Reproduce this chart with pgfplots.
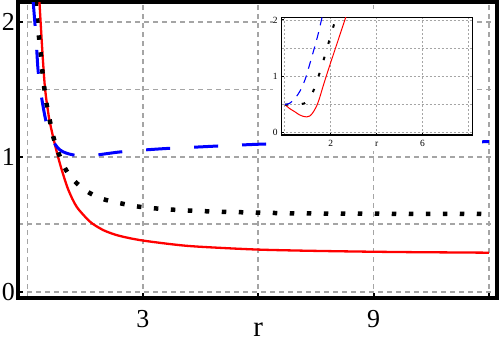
\documentclass[border=0pt]{standalone}
\usepackage{pgfplots}
\pgfplotsset{compat=1.18}
\usepackage{fontspec}
\setmainfont{Liberation Serif}
\definecolor{gridgray}{RGB}{165,165,165}
\definecolor{pred}{RGB}{255,0,0}
\definecolor{pblue}{RGB}{0,0,255}
\begin{document}
\begin{tikzpicture}
\useasboundingbox (0,0) rectangle (500bp,-347bp);
\begin{axis}[
  at={(18bp,-298bp)}, anchor=south west,
  scale only axis, width=479bp, height=296bp,
  xmin=-0.25, xmax=12.21, ymin=-0.047, ymax=2.148,
  axis line style={line width=3.2bp},
  xtick={3,6,9,12}, xticklabels={3,,9,}, minor xtick={0},
  ytick={0,1,2}, yticklabels={0,1,2}, minor ytick={0.5,1.5},
  grid=both,
  major grid style={gridgray, line width=1.7bp, dash pattern=on 5bp off 4bp},
  minor grid style={gridgray, line width=1.7bp, dash pattern=on 5bp off 4bp},
  tick pos=left, tick align=inside,
  major tick length=5bp, minor tick length=0pt,
  tick style={black, line width=2bp},
  ticklabel style={font=\fontsize{26}{26}\selectfont, inner sep=0pt},
  yticklabel style={xshift=-3bp},
  xticklabel style={yshift=-12bp},
  xlabel={r},
  xlabel style={font=\fontsize{29}{29}\selectfont, inner sep=0pt, at={(rel axis cs:0.5016,0)}, anchor=base, yshift=-38.5bp},
]
\addplot[pred, line width=2.3bp, smooth] coordinates {
(0.29,2.25) (0.305,2.163) (0.38,1.80) (0.453,1.508) (0.557,1.29) (0.669,1.14)
(0.773,1.02) (0.886,0.905) (1.06,0.755) (1.28,0.628) (1.62,0.520) (1.88,0.470)
(2.06,0.445) (2.40,0.413) (3.0,0.379) (4.06,0.342) (5.0,0.325) (6.0,0.312)
(7.0,0.305) (8.0,0.300) (9.0,0.296) (10,0.293) (11,0.291) (12,0.289)};
\addplot[black, line width=4.5bp, line cap=butt, dash pattern=on 4.5bp off 12.5bp, smooth] coordinates {
(0.205,2.152) (0.253,2.01) (0.297,1.887) (0.34,1.763) (0.383,1.637) (0.435,1.508)
(0.497,1.385) (0.583,1.261) (0.678,1.138) (0.817,1.019) (0.999,0.902) (1.278,0.804)
(1.624,0.730) (2.04,0.680) (2.90,0.630) (3.78,0.608) (4.67,0.596) (5.55,0.589)
(6.88,0.581) (8,0.579) (9,0.578) (10,0.577) (11,0.577) (12,0.576)};
\addplot[pblue, line width=3bp, dash pattern=on 24bp off 24bp, smooth] coordinates {
(0.1455,2.148) (0.193,1.977) (0.237,1.792) (0.278,1.624) (0.367,1.434) (0.471,1.273)
(0.58,1.17) (0.695,1.10) (0.843,1.051) (1.0,1.028) (1.19,1.014) (1.4,1.008)
(1.6,1.009) (1.84,1.015) (2.4,1.036) (3.05,1.051) (3.69,1.063) (4.31,1.071)
(4.94,1.080) (5.57,1.088) (6.2,1.095) (7,1.099) (8,1.103) (9,1.106) (10,1.108)
(11,1.110) (12,1.112)};
\end{axis}
\fill[white] (273bp,-9bp) rectangle (476bp,-151bp);
\begin{axis}[
  at={(281.7bp,-135bp)}, anchor=south west,
  scale only axis, width=191bp, height=117.5bp,
  xmin=-0.14, xmax=8.19, ymin=-0.041, ymax=2.044,
  axis line style={line width=1.3bp},
  xtick={2,4,6}, xticklabels={2,r,6}, minor xtick={0,8},
  ytick={0,1,2}, yticklabels={0,1,2}, minor ytick={0.5,1.5},
  grid=both,
  major grid style={gridgray, line width=0.9bp, dash pattern=on 2bp off 2bp},
  minor grid style={gridgray, line width=0.9bp, dash pattern=on 2bp off 2bp},
  tick pos=left, tick align=inside,
  major tick length=2.5bp, minor tick length=0pt,
  tick style={black, line width=1bp},
  ticklabel style={font=\fontsize{9.5}{9.5}\selectfont, inner sep=0pt},
  yticklabel style={xshift=-4bp},
  xticklabel style={yshift=-5bp, text height=6.5bp, text depth=0pt},
]
\addplot[pred, line width=1bp, smooth] coordinates {
(0,0.5) (0.2,0.43) (0.44,0.37) (0.62,0.32) (0.80,0.29) (0.95,0.28) (1.08,0.295)
(1.2,0.345) (1.3,0.41) (1.39,0.48) (1.5,0.60) (1.61,0.75) (1.75,0.935) (2.0,1.25)
(2.19,1.48) (2.45,1.80) (2.67,2.07) (2.72,2.13)};
\addplot[black, line width=2bp, line cap=butt, dash pattern=on 3.5bp off 13.4bp, smooth] coordinates {
(0,0.5) (0.3,0.5) (0.6,0.505) (0.85,0.52) (1.05,0.60) (1.27,0.77) (1.5,1.045)
(1.72,1.335) (1.92,1.615) (2.14,1.92) (2.23,2.06)};
\addplot[pblue, line width=1.1bp, dash pattern=on 8bp off 7bp, smooth] coordinates {
(0,0.5) (0.2,0.52) (0.37,0.58) (0.5,0.64) (0.66,0.74) (0.80,0.86) (0.92,0.99)
(1.05,1.17) (1.17,1.34) (1.31,1.54) (1.45,1.75) (1.61,2.03) (1.66,2.10)};
\end{axis}
\end{tikzpicture}
\end{document}
